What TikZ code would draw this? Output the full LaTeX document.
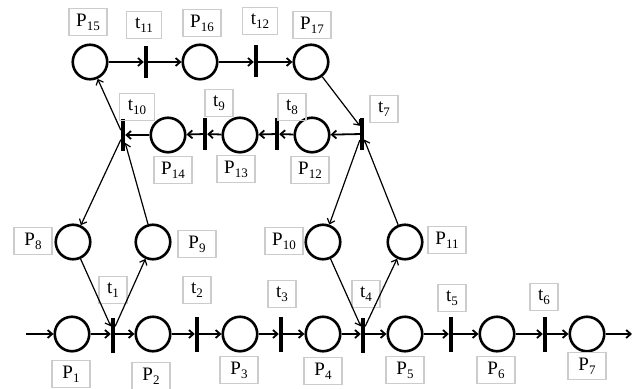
\documentclass[tikz,border=0pt]{standalone}
\usepackage{fontspec}
\setmainfont{Liberation Serif}
\usetikzlibrary{arrows.meta}
\newcommand\lbl[2]{#1\raisebox{-4pt}{\fontsize{13}{13}\selectfont #2}}
\begin{document}
\begin{tikzpicture}[x=1pt,y=-1pt,
  place/.style={circle, draw, line width=2.6pt, minimum size=34.5pt, inner sep=0pt},
  trans/.style={rectangle, fill=black, minimum width=4pt, minimum height=35pt, inner sep=0pt},
  strans/.style={trans, minimum height=32pt},
  lab/.style={draw=black!20, line width=1.4pt, minimum height=27pt, minimum width=38pt, inner sep=1pt, font=\fontsize{19}{19}\selectfont},
  tlab/.style={lab, minimum width=28pt},
  wlab/.style={lab, minimum width=35pt},
  arc/.style={-{Straight Barb[length=4.5pt,width=8pt]}, line width=1.8pt},
  darc/.style={arc, line width=1.2pt}]
\useasboundingbox (0,0) rectangle (636,388);
\fill[white] (0,0) rectangle (636,388);
% bottom row
\node[place] (P1) at (72,334) {};
\node[trans] (t1) at (113,335) {};
\node[place] (P2) at (153,334) {};
\node[trans] (t2) at (197,334) {};
\node[place] (P3) at (240,334) {};
\node[trans] (t3) at (281,334) {};
\node[place] (P4) at (323,334) {};
\node[trans] (t4) at (363,335) {};
\node[place] (P5) at (405,334) {};
\node[trans] (t5) at (451,334) {};
\node[place] (P6) at (497,334) {};
\node[trans] (t6) at (545,334) {};
\node[place] (P7) at (587,334) {};
\coordinate (in) at (26,334);
\coordinate (out) at (632,334);
% third row
\node[place] (P8) at (73,242) {};
\node[place] (P9) at (153,242) {};
\node[place] (P10) at (323,242) {};
\node[place] (P11) at (405,242) {};
% second row
\node[strans] (t10) at (123,135) {};
\node[place] (P14) at (168,135) {};
\node[strans] (t9) at (205,134) {};
\node[place] (P13) at (240,135) {};
\node[strans] (t8) at (277,134) {};
\node[place] (P12) at (312,135) {};
\node[strans] (t7) at (362,134) {};
% top row
\node[place] (P15) at (90,62) {};
\node[strans] (t11) at (146,62) {};
\node[place] (P16) at (200,62) {};
\node[strans] (t12) at (256,61) {};
\node[place] (P17) at (311,62) {};
% labels
\node[lab] (lP1) at (71,374) {\lbl{P}{1}};
\node[lab] (lP2) at (151,376) {\lbl{P}{2}};
\node[lab] (lP3) at (239,370) {\lbl{P}{3}};
\node[lab] (lP4) at (323,371) {\lbl{P}{4}};
\node[lab] (lP5) at (405,370) {\lbl{P}{5}};
\node[lab] (lP6) at (496,370) {\lbl{P}{6}};
\node[lab] (lP7) at (587,366) {\lbl{P}{7}};
\node[tlab] (lt1) at (113,290) {\lbl{t}{1}};
\node[tlab] (lt2) at (197,290) {\lbl{t}{2}};
\node[tlab] (lt3) at (282,294) {\lbl{t}{3}};
\node[tlab] (lt4) at (366,294) {\lbl{t}{4}};
\node[tlab] (lt5) at (452,298) {\lbl{t}{5}};
\node[tlab] (lt6) at (544,297) {\lbl{t}{6}};
\node[lab] (lP8) at (33,241) {\lbl{P}{8}};
\node[lab] (lP9) at (197,244) {\lbl{P}{9}};
\node[lab] (lP10) at (284,241) {\lbl{P}{10}};
\node[lab] (lP11) at (447,240) {\lbl{P}{11}};
\node[lab] (lP15) at (88,22) {\lbl{P}{15}};
\node[wlab] (lt11) at (144,25) {\lbl{t}{11}};
\node[lab] (lP16) at (202,23) {\lbl{P}{16}};
\node[wlab] (lt12) at (260,21) {\lbl{t}{12}};
\node[lab] (lP17) at (312,25) {\lbl{P}{17}};
\node[wlab] (lt10) at (137,107) {\lbl{t}{10}};
\node[tlab] (lt9) at (219,103) {\lbl{t}{9}};
\node[tlab] (lt8) at (292,107) {\lbl{t}{8}};
\node[tlab] (lt7) at (384,109) {\lbl{t}{7}};
\node[lab] (lP14) at (173,170) {\lbl{P}{14}};
\node[lab] (lP13) at (236,169) {\lbl{P}{13}};
\node[lab] (lP12) at (310,170) {\lbl{P}{12}};
% arcs bottom row
\draw[arc] (in) -- (P1);
\draw[arc] (P1) -- (P1 -| t1.west);
\draw[arc] (t1.east |- P2) -- (P2);
\draw[arc] (P2) -- (P2 -| t2.west);
\draw[arc] (t2) -- (P3);
\draw[arc] (P3) -- (t3);
\draw[arc] (t3) -- (P4);
\draw[arc] (P4) -- (P4 -| t4.west);
\draw[arc] (t4.east |- P5) -- (P5);
\draw[arc] (P5) -- (t5);
\draw[arc] (t5) -- (P6);
\draw[arc] (P6) -- (t6);
\draw[arc] (t6) -- (P7);
\draw[arc] (P7) -- (out);
% side loops
\draw[darc] (P8) -- ([yshift=-9pt]t1.north west);
\draw[darc] ([yshift=-9pt]t1.north east) -- (P9);
\draw[darc] (P10) -- ([yshift=-9pt]t4.north west);
\draw[darc] ([yshift=-9pt]t4.north east) -- (P11);
\draw[darc] (t10) -- (P8);
\draw[darc] (P9) -- (t10);
\draw[darc] (t10) -- (P15);
\draw[darc] (P17) -- ([yshift=-8pt]t7.north west);
\draw[darc] (P11) -- (t7);
\draw[darc] (t7) -- (P10);
% second row
\draw[arc] (t7) -- (P12);
\draw[arc] (P12) -- (t8);
\draw[arc] (t8) -- (P13);
\draw[arc] (P13) -- (t9);
\draw[arc] (t9) -- (P14);
\draw[arc] (P14) -- (t10);
% top row
\draw[arc] (P15) -- (t11);
\draw[arc] (t11) -- (P16);
\draw[arc] (P16) -- (P16 -| t12.west);
\draw[arc] (t12.east |- P17) -- (P17);
\end{tikzpicture}
\end{document}
